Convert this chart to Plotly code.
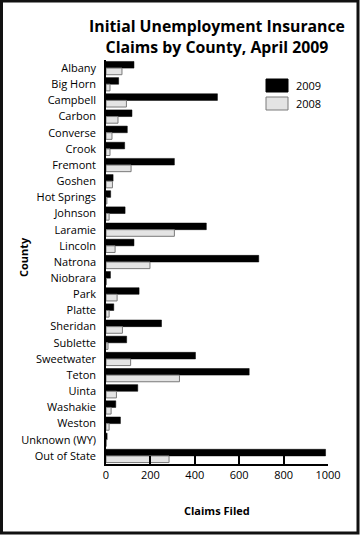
import plotly.graph_objects as go

counties = ["Albany", "Big Horn", "Campbell", "Carbon", "Converse", "Crook", "Fremont",
            "Goshen", "Hot Springs", "Johnson", "Laramie", "Lincoln", "Natrona", "Niobrara",
            "Park", "Platte", "Sheridan", "Sublette", "Sweetwater", "Teton", "Uinta",
            "Washakie", "Weston", "Unknown (WY)", "Out of State"]
claims_2009 = [126, 57, 502, 117, 96, 84, 308, 32, 21, 86, 452, 126, 688, 20,
               149, 35, 250, 93, 403, 645, 143, 44, 65, 5, 989]
claims_2008 = [72, 18, 92, 54, 27, 18, 113, 29, 4, 14, 308, 41, 198, 2,
               50, 14, 74, 9, 111, 331, 47, 23, 14, 1, 284]
x_ticks = [0, 200, 400, 600, 800, 1000]

FONT = "Open Sans"
W, H = 360, 535
L, R, T, B = 106, 32, 60, 71
pw, ph = W - L - R, H - T - B

def px_x(p):
    return (p - L) / pw

def px_y(p):
    return (H - B - p) / ph

fig = go.Figure()
fig.add_trace(go.Bar(y=counties, x=claims_2009, name="2009", orientation="h",
                     marker=dict(color="black", line=dict(color="black", width=0.5)),
                     showlegend=False))
fig.add_trace(go.Bar(y=counties, x=claims_2008, name="2008", orientation="h",
                     marker=dict(color="#e4e4e4", line=dict(color="#7a7a7a", width=1)),
                     showlegend=False))

shapes = [
    # outer frame
    dict(type="rect", xref="paper", yref="paper",
         x0=px_x(1.5), x1=px_x(W - 2), y0=px_y(H - 2), y1=px_y(1),
         line=dict(color="#111111", width=3), fillcolor="rgba(0,0,0,0)", layer="above"),
    # legend swatches
    dict(type="rect", xref="paper", yref="paper",
         x0=px_x(266), x1=px_x(288), y0=px_y(92), y1=px_y(79),
         line=dict(color="black", width=1), fillcolor="black"),
    dict(type="rect", xref="paper", yref="paper",
         x0=px_x(266), x1=px_x(288), y0=px_y(110), y1=px_y(97),
         line=dict(color="#7a7a7a", width=1), fillcolor="#e4e4e4"),
]
annotations = [
    dict(text="2009", xref="paper", yref="paper", x=px_x(293.5), y=px_y(85.5),
         xanchor="left", yanchor="middle", showarrow=False,
         font=dict(family=FONT, size=11, color="black")),
    dict(text="2008", xref="paper", yref="paper", x=px_x(293.5), y=px_y(103.5),
         xanchor="left", yanchor="middle", showarrow=False,
         font=dict(family=FONT, size=11, color="black")),
    dict(text="<b>County</b>", xref="paper", yref="paper", x=px_x(23), y=px_y(257),
         xanchor="center", yanchor="middle", textangle=-90, showarrow=False,
         font=dict(family=FONT, size=11, color="black")),
    dict(text="<b>Claims Filed</b>", xref="paper", yref="paper", x=px_x(217), y=px_y(510),
         xanchor="center", yanchor="middle", showarrow=False,
         font=dict(family=FONT, size=11, color="black")),
]

fig.update_layout(
    width=W, height=H,
    margin=dict(l=L, r=R, t=T, b=B, autoexpand=False),
    paper_bgcolor="white", plot_bgcolor="white",
    barmode="group", bargap=0.18, bargroupgap=0,
    title=dict(text="<b>Initial Unemployment Insurance<br>Claims by County, April 2009</b>",
               x=0.5, xref="paper", xanchor="center", y=1 - 32 / H, yanchor="middle",
               font=dict(family=FONT, size=15.8, color="black")),
    font=dict(family=FONT, size=11, color="black"),
    shapes=shapes, annotations=annotations,
    xaxis=dict(range=[0, 1000], tickvals=x_ticks, ticks="inside", ticklen=8,
               tickcolor="black", tickwidth=1.5, showline=True, linecolor="black",
               linewidth=1.5, showgrid=False, zeroline=False, automargin=False,
               tickfont=dict(family=FONT, size=11)),
    yaxis=dict(autorange="reversed", showline=True, linecolor="black", linewidth=1.5,
               showgrid=False, ticks="", ticklabelstandoff=6, automargin=False,
               tickfont=dict(family=FONT, size=11)),
)

fig.write_html("out.html", config={"displayModeBar": False},
               post_script="document.body.style.margin='0';document.body.style.overflow='hidden';")
